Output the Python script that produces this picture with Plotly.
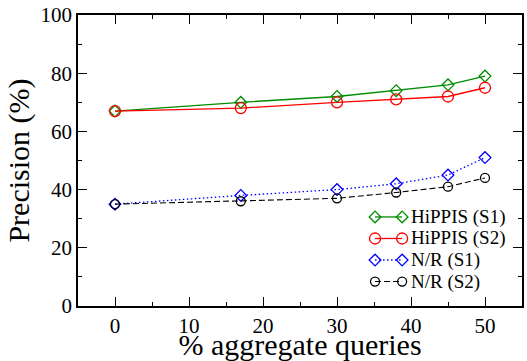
import plotly.graph_objects as go

# Fraction of aggregate queries in the workload (%)
agg_pct = [0, 17, 30, 38, 45, 50]

# Precision (%) for each method / setting
hippis_s1 = [67, 70, 72, 74, 76, 79]
hippis_s2 = [67, 68, 70, 71, 72, 75]
nr_s1 = [35, 38, 40, 42, 45, 51]
nr_s2 = [35, 36, 37, 39, 41, 44]

series_names = ["HiPPIS (S1)", "HiPPIS (S2)", "N/R (S1)", "N/R (S2)"]

FONT = "Liberation Serif"

styles = [
    dict(color="#008c00", symbol="diamond-open", size=9, dash="solid", width=1.3),
    dict(color="#ff0000", symbol="circle-open", size=11, dash="solid", width=1.3),
    dict(color="#0000ff", symbol="diamond-open", size=9, dash="1.5px,2.5px", width=1.3),
    dict(color="#000000", symbol="circle-open", size=9, dash="6px,3px", width=1.1),
]

fig = go.Figure()
for name, ys, st in zip(series_names, [hippis_s1, hippis_s2, nr_s1, nr_s2], styles):
    fig.add_trace(go.Scatter(
        x=agg_pct, y=ys, name=name, mode="lines+markers", showlegend=False,
        line=dict(color=st["color"], dash=st["dash"], width=st["width"]),
        marker=dict(symbol=st["symbol"], size=st["size"], color=st["color"],
                    line=dict(color=st["color"], width=1.3)),
    ))

# Legend drawn on an overlay axis spanning the plot area (0..1 in both directions):
# each key is a short line with a marker at both ends, followed by the label.
KEY_X0, KEY_X1, TEXT_X = 0.669, 0.730, 0.745
ROW0_Y, ROW_STEP = 0.306, 0.074
for i, (name, st) in enumerate(zip(series_names, styles)):
    ry = ROW0_Y - i * ROW_STEP
    fig.add_trace(go.Scatter(
        x=[KEY_X0, KEY_X1], y=[ry, ry], mode="lines+markers", showlegend=False,
        xaxis="x2", yaxis="y2", hoverinfo="skip",
        line=dict(color=st["color"], dash=st["dash"], width=st["width"]),
        marker=dict(symbol=st["symbol"], size=st["size"], color=st["color"],
                    line=dict(color=st["color"], width=1.3)),
    ))
    fig.add_annotation(
        x=TEXT_X, y=ry, xref="x2", yref="y2", text=name, showarrow=False,
        xanchor="left", yanchor="middle",
        font=dict(family=FONT, size=19, color="black"),
    )

axis_common = dict(
    showline=True, linecolor="black", linewidth=1.6, mirror="ticks",
    ticks="inside", ticklen=9, tickwidth=1.3, tickcolor="black",
    showgrid=False, zeroline=False, automargin=False,
    tickfont=dict(family=FONT, size=21, color="black"),
)

fig.update_xaxes(
    range=[-5, 55], dtick=10, tick0=0,
    minor=dict(dtick=5, ticklen=4, ticks="inside", tickcolor="black", tickwidth=1.3),
    title=dict(text="% aggregate queries", standoff=0,
               font=dict(family=FONT, size=30, color="black")),
    **axis_common,
)
fig.update_yaxes(
    range=[0, 100], dtick=20, tick0=0,
    minor=dict(dtick=10, ticklen=4, ticks="inside", tickcolor="black", tickwidth=1.3),
    title=dict(text="Precision (%)", standoff=2,
               font=dict(family=FONT, size=30, color="black")),
    **axis_common,
)

fig.update_layout(
    font=dict(family=FONT, color="black"),
    xaxis2=dict(domain=[0, 1], range=[0, 1], visible=False, fixedrange=True,
                anchor="y2", overlaying="x"),
    yaxis2=dict(domain=[0, 1], range=[0, 1], visible=False, fixedrange=True,
                anchor="x2", overlaying="y"),
    width=527, height=361,
    margin=dict(l=78, r=5, t=15, b=55),
    paper_bgcolor="white", plot_bgcolor="white",
    showlegend=False,
)

fig.write_html("out.html")
